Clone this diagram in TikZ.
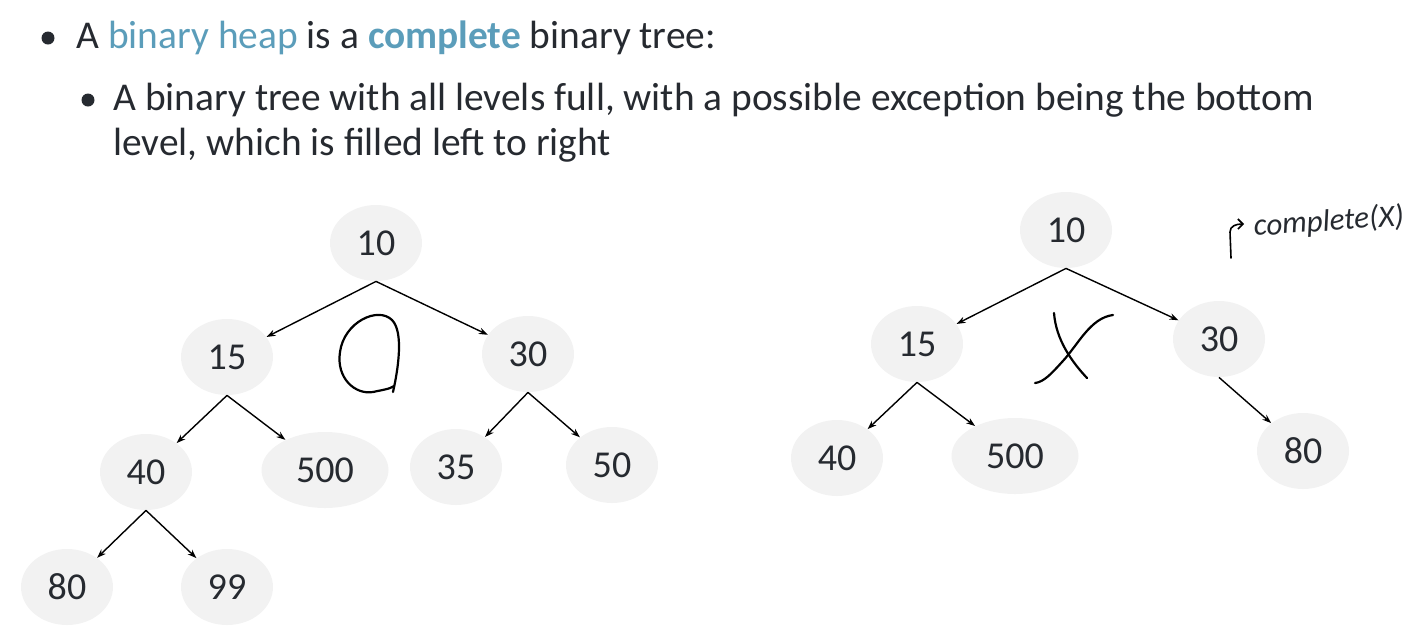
\documentclass[tikz,border=0pt]{standalone}
\usepackage{fontspec}
\setmainfont{Carlito}
\usetikzlibrary{arrows.meta,positioning,shapes.geometric}
\definecolor{slidetext}{HTML}{262A30}
\definecolor{slideblue}{HTML}{5B9DBA}
\definecolor{nodegray}{HTML}{F2F2F2}

\begin{document}
\begin{tikzpicture}[
    x=0.5pt, y=-0.5pt,
    >={Stealth[length=4.5pt,width=3.2pt]},
    heapnode/.style={ellipse, fill=nodegray, minimum width=46pt, minimum height=38pt, inner sep=0pt, font=\fontsize{19}{22}\selectfont, text=slidetext},
    widenode/.style={heapnode, minimum width=63.5pt},
    heaparrow/.style={->, line width=0.7pt},
    ink/.style={line width=1.1pt, line cap=round, line join=round},
    textline/.style={anchor=base west, inner sep=0pt, font=\fontsize{19.7}{23}\selectfont, text=slidetext},
    dot/.style={circle, fill=slidetext, minimum size=6.5pt, inner sep=0pt}
]
    \useasboundingbox (0,0) rectangle (1418,628);

    % bullet text
    \node[dot] (b1) at (48,38) {};
    \node[textline] (t1) at (76,48) {A \textcolor{slideblue}{binary heap} is a \textcolor{slideblue}{\textbf{complete}} binary tree:};
    \node[dot] (b2) at (88,100) {};
    \node[textline] (t2) at (113,110) {A binary tree with all levels full, with a possible exception being the bottom};
    \node[textline] (t3) at (113,155) {level, which is filled left to right};

    % left tree (complete)
    \begin{scope}[on grid]
    \node[heapnode] (L10) at (376,243) {10};
    \node[heapnode, below left=57pt and 74.5pt of L10] (L15) {15};
    \node[heapnode, below right=55.5pt and 76pt of L10] (L30) {30};
    \node[heapnode, below left=57.5pt and 40.5pt of L15] (L40) {40};
    \node[widenode, below right=56.5pt and 49pt of L15] (L500) {500};
    \node[heapnode, below left=56.5pt and 36pt of L30] (L35) {35};
    \node[heapnode, below right=55.5pt and 42pt of L30] (L50) {50};
    \node[heapnode, below left=57.5pt and 39.5pt of L40] (L80) {80};
    \node[heapnode, below right=57.5pt and 40.5pt of L40] (L99) {99};
    \end{scope}

    \draw[heaparrow] (L10.south) -- (L15);
    \draw[heaparrow] (L10.south) -- (L30);
    \draw[heaparrow] (L15.south) -- (L40);
    \draw[heaparrow] (L15.south) -- (L500);
    \draw[heaparrow] (L30.south) -- (L35);
    \draw[heaparrow] (L30.south) -- (L50);
    \draw[heaparrow] (L40.south) -- (L80);
    \draw[heaparrow] (L40.south) -- (L99);

    % right tree (not complete)
    \begin{scope}[on grid]
    \node[heapnode] (R10) at (1066,230) {10};
    \node[heapnode, below left=57pt and 74.5pt of R10] (R15) {15};
    \node[heapnode, below right=54.5pt and 76.5pt of R10] (R30) {30};
    \node[heapnode, below left=57pt and 40pt of R15] (R40) {40};
    \node[widenode, below right=56pt and 49pt of R15] (R500) {500};
    \node[heapnode, below right=56pt and 42pt of R30] (R80) {80};
    \end{scope}

    \draw[heaparrow] (R10.south) -- (R15);
    \draw[heaparrow] (R10.south) -- (R30);
    \draw[heaparrow] (R15.south) -- (R40);
    \draw[heaparrow] (R15.south) -- (R500);
    \draw[heaparrow] (R30.south) -- (R80);

    % handwritten marks
    \draw[ink] (393,392) .. controls (398,370) and (404,332) .. (392,320)
        .. controls (378,306) and (344,322) .. (340,352)
        .. controls (336,378) and (355,395) .. (373,392)
        .. controls (382,390) and (390,389) .. (394,386);
    \draw[ink] (1054,313) .. controls (1056,340) and (1072,362) .. (1087,378);
    \draw[ink] (1113,315) .. controls (1090,318) and (1078,345) .. (1062,362)
        .. controls (1052,373) and (1044,382) .. (1035,383);
    \draw[line width=0.8pt, line cap=round, -{Straight Barb[length=2.5pt]}]
        (1231,258) -- (1230,232) .. controls (1230,226) and (1236,224) .. (1244,224);
    \node[anchor=base west, inner sep=0pt, rotate=4, font=\itshape\fontsize{15.5}{18}\selectfont, text=slidetext] (note) at (1254,236) {complete(X)};
\end{tikzpicture}
\end{document}
